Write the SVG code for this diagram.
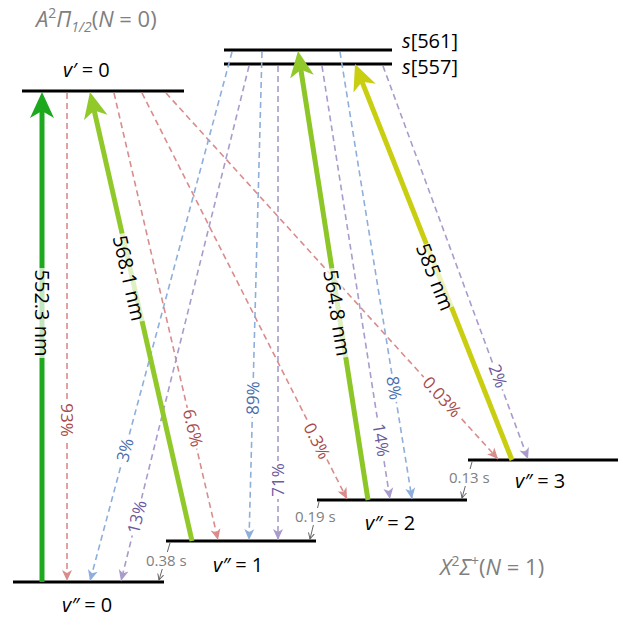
<svg xmlns="http://www.w3.org/2000/svg" width="639" height="619" viewBox="0 0 639 619">
<style>
text{font-family:"Open Sans","Noto Sans","Liberation Sans",sans-serif;}
.lvl{stroke:#000;stroke-width:3;fill:none;}
.big{font-size:20px;fill:#000;}
.gray{fill:#808080;}
.pump{stroke-width:5;fill:none;}
.dash{stroke-width:1.6;stroke-dasharray:6 4;fill:none;}
.red{stroke:#d98c8c;}
.blue{stroke:#8eaedb;}
.purp{stroke:#a99bcb;}
.tr{fill:#a84a4a;}
.tb{fill:#4a6fae;}
.tp{fill:#6c5a9c;}
.pct{font-size:17px;text-anchor:middle;}
.nm{font-size:20px;text-anchor:middle;fill:#000;}
.bgw{fill:#fff;}
.bgp{fill:#fff;fill-opacity:0.72;}
.time{font-size:15px;fill:#808080;}
.tline{stroke:#666;stroke-width:1;fill:none;}
</style>
<defs>
<marker id="mG1" viewBox="0 -13 27 26" refX="16" refY="0" markerWidth="27" markerHeight="26" markerUnits="userSpaceOnUse" orient="auto"><path d="M0,-12 L26,0 L0,12 L7,0 Z" fill="#1ea81e"/></marker>
<marker id="mG2" viewBox="0 -13 27 26" refX="16" refY="0" markerWidth="27" markerHeight="26" markerUnits="userSpaceOnUse" orient="auto"><path d="M0,-12 L26,0 L0,12 L7,0 Z" fill="#92c92a"/></marker>
<marker id="mY" viewBox="0 -13 27 26" refX="16" refY="0" markerWidth="27" markerHeight="26" markerUnits="userSpaceOnUse" orient="auto"><path d="M0,-12 L26,0 L0,12 L7,0 Z" fill="#c9cf10"/></marker>
<marker id="mR" viewBox="0 -6 12 12" refX="11" refY="0" markerWidth="12" markerHeight="12" markerUnits="userSpaceOnUse" orient="auto"><path d="M0,-5 L11,0 L0,5 L3,0 Z" fill="#d98c8c"/></marker>
<marker id="mB" viewBox="0 -6 12 12" refX="11" refY="0" markerWidth="12" markerHeight="12" markerUnits="userSpaceOnUse" orient="auto"><path d="M0,-5 L11,0 L0,5 L3,0 Z" fill="#8eaedb"/></marker>
<marker id="mP" viewBox="0 -6 12 12" refX="11" refY="0" markerWidth="12" markerHeight="12" markerUnits="userSpaceOnUse" orient="auto"><path d="M0,-5 L11,0 L0,5 L3,0 Z" fill="#a99bcb"/></marker>
<marker id="mK" viewBox="0 -4 7 8" refX="6" refY="0" markerWidth="7" markerHeight="8" markerUnits="userSpaceOnUse" orient="auto"><path d="M0,-3 L6,0 L0,3" fill="none" stroke="#666" stroke-width="1"/></marker>
</defs>

<!-- state labels -->
<text x="36" y="27" font-size="22" class="gray"><tspan font-style="italic">A</tspan><tspan font-size="14" dy="-9">2</tspan><tspan font-style="italic" dy="9">Π</tspan><tspan font-size="14" font-style="italic" dy="5">1/2</tspan><tspan dy="-5">(</tspan><tspan font-style="italic">N</tspan> = 0)</text>
<text x="440" y="575" font-size="22" class="gray"><tspan font-style="italic">X</tspan><tspan font-size="14" dy="-9">2</tspan><tspan font-style="italic" dy="9">Σ</tspan><tspan font-size="14" dy="-9">+</tspan><tspan dy="9">(</tspan><tspan font-style="italic">N</tspan> = 1)</text>

<!-- levels -->
<g id="vp0"><line class="lvl" x1="22" y1="91" x2="184" y2="91"/><text class="big" x="63" y="77"><tspan font-style="italic">v′</tspan> = 0</text></g>
<g id="s561"><line class="lvl" x1="224" y1="50" x2="392" y2="50"/><text class="big" x="402" y="48"><tspan font-style="italic">s</tspan>[561]</text></g>
<g id="s557"><line class="lvl" x1="224" y1="64" x2="392" y2="64"/><text class="big" x="402" y="74"><tspan font-style="italic">s</tspan>[557]</text></g>
<g id="vpp0"><line class="lvl" x1="13" y1="582" x2="164" y2="582"/><text class="big" x="62" y="612"><tspan font-style="italic">v″</tspan> = 0</text></g>
<g id="vpp1"><line class="lvl" x1="166" y1="541" x2="316" y2="541"/><text class="big" x="213" y="572"><tspan font-style="italic">v″</tspan> = 1</text></g>
<g id="vpp2"><line class="lvl" x1="317" y1="500" x2="467" y2="500"/><text class="big" x="365" y="530"><tspan font-style="italic">v″</tspan> = 2</text></g>
<g id="vpp3"><line class="lvl" x1="468" y1="460" x2="618" y2="460"/><text class="big" x="515" y="488"><tspan font-style="italic">v″</tspan> = 3</text></g>

<g id="connectors">
<!-- decay dashed -->
<line class="dash red" x1="67" y1="93" x2="67" y2="581" marker-end="url(#mR)"/>
<line class="dash red" x1="114" y1="93" x2="218" y2="540" marker-end="url(#mR)"/>
<line class="dash red" x1="142" y1="93" x2="347" y2="499" marker-end="url(#mR)"/>
<line class="dash red" x1="166" y1="93" x2="498" y2="459" marker-end="url(#mR)"/>
<line class="dash blue" x1="232" y1="52" x2="90" y2="581" marker-end="url(#mB)"/>
<line class="dash blue" x1="262" y1="52" x2="249" y2="540" marker-end="url(#mB)"/>
<line class="dash blue" x1="340" y1="52" x2="412" y2="499" marker-end="url(#mB)"/>
<line class="dash purp" x1="249" y1="66" x2="121" y2="581" marker-end="url(#mP)"/>
<line class="dash purp" x1="278" y1="66" x2="278" y2="540" marker-end="url(#mP)"/>
<line class="dash purp" x1="322" y1="66" x2="390" y2="499" marker-end="url(#mP)"/>
<line class="dash purp" x1="383" y1="66" x2="528" y2="459" marker-end="url(#mP)"/>

<!-- pump arrows -->
<line class="pump" stroke="#1ea81e" x1="42" y1="582" x2="42" y2="102" marker-end="url(#mG1)"/>
<line class="pump" stroke="#92c92a" x1="192" y1="541" x2="92.2" y2="101.8" marker-end="url(#mG2)"/>
<line class="pump" stroke="#8cc627" x1="368" y1="500" x2="299.5" y2="60.9" marker-end="url(#mG2)"/>
<line class="pump" stroke="#c9cf10" x1="512" y1="460" x2="358.7" y2="73.3" marker-end="url(#mY)"/>

<!-- lifetime arrows -->
<line class="tline" x1="170" y1="543" x2="159" y2="580" marker-end="url(#mK)"/>
<line class="tline" x1="319" y1="502" x2="310" y2="539" marker-end="url(#mK)"/>
<line class="tline" x1="472" y1="462" x2="462" y2="498" marker-end="url(#mK)"/>
</g>

<!-- pump labels -->
<g transform="translate(42,313) rotate(90)"><rect class="bgp" x="-45" y="-10" width="90" height="20"/><text class="nm" y="7">552.3 nm</text></g>
<g transform="translate(129,278) rotate(77.2)"><rect class="bgp" x="-45" y="-10" width="90" height="20"/><text class="nm" y="7">568.1 nm</text></g>
<g transform="translate(337,313) rotate(81.1)"><rect class="bgp" x="-45" y="-10" width="90" height="20"/><text class="nm" y="7">564.8 nm</text></g>
<g transform="translate(435,277) rotate(68.4)"><rect class="bgp" x="-34" y="-10" width="68" height="20"/><text class="nm" y="7">585 nm</text></g>

<!-- percentage labels -->
<g transform="translate(67,420) rotate(90)"><rect class="bgw" x="-19" y="-7" width="38" height="14"/><text class="pct tr" y="6">93%</text></g>
<g transform="translate(193,428) rotate(76.9)"><rect class="bgw" x="-21" y="-7" width="42" height="14"/><text class="pct tr" y="6">6.6%</text></g>
<g transform="translate(317,441) rotate(63.2)"><rect class="bgw" x="-21" y="-7" width="42" height="14"/><text class="pct tr" y="6">0.3%</text></g>
<g transform="translate(442,397) rotate(47.8)"><rect class="bgw" x="-27" y="-7" width="54" height="14"/><text class="pct tr" y="6">0.03%</text></g>
<g transform="translate(125,450) rotate(-75)"><rect class="bgw" x="-14" y="-7" width="28" height="14"/><text class="pct tb" y="6">3%</text></g>
<g transform="translate(253,398) rotate(-88.5)"><rect class="bgw" x="-19" y="-7" width="38" height="14"/><text class="pct tb" y="6">89%</text></g>
<g transform="translate(394,388) rotate(80.9)"><rect class="bgw" x="-14" y="-7" width="28" height="14"/><text class="pct tb" y="6">8%</text></g>
<g transform="translate(137,517) rotate(-76)"><rect class="bgw" x="-19" y="-7" width="38" height="14"/><text class="pct tp" y="6">13%</text></g>
<g transform="translate(278,480) rotate(-90)"><rect class="bgw" x="-19" y="-7" width="38" height="14"/><text class="pct tp" y="6">71%</text></g>
<g transform="translate(381,440) rotate(81)"><rect class="bgw" x="-19" y="-7" width="38" height="14"/><text class="pct tp" y="6">14%</text></g>
<g transform="translate(498,376) rotate(69.8)"><rect class="bgw" x="-14" y="-7" width="28" height="14"/><text class="pct tp" y="6">2%</text></g>

<!-- lifetimes -->
<rect class="bgw" x="145" y="552" width="44" height="17"/>
<text class="time" x="146" y="566">0.38 s</text>
<rect class="bgw" x="294" y="508" width="44" height="17"/>
<text class="time" x="295" y="522">0.19 s</text>
<rect class="bgw" x="448" y="469" width="44" height="17"/>
<text class="time" x="449" y="483">0.13 s</text>
</svg>
